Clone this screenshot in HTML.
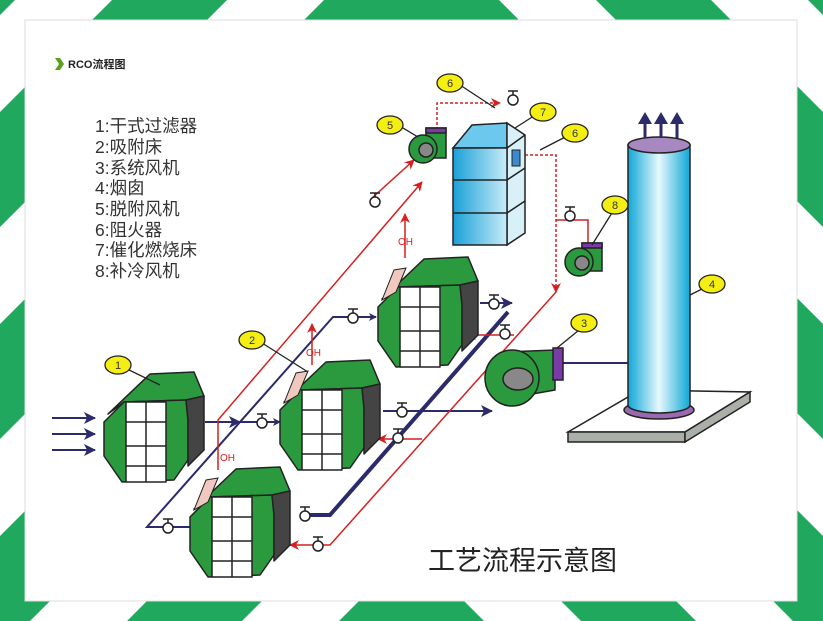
<!DOCTYPE html>
<html><head><meta charset="utf-8"><style>
html,body{margin:0;padding:0;width:823px;height:621px;overflow:hidden;background:#fff}
svg{position:absolute;left:0;top:0}
text{font-family:"Liberation Sans","Noto Sans CJK SC",sans-serif}
</style></head><body>
<svg width="823" height="621" viewBox="0 0 823 621">
<defs>
<clipPath id="lh"><rect x="0" y="0" width="412" height="621"/></clipPath>
<g id="stripes" fill="#1fa85e">
<polygon points="-100,0 15,0 -606,621 -721,621"/>
<polygon points="112,0 227,0 -394,621 -509,621"/>
<polygon points="324,0 439,0 -182,621 -297,621"/>
<polygon points="536,0 651,0 30,621 -85,621"/>
<polygon points="748,0 863,0 242,621 127,621"/>
<polygon points="960,0 1075,0 454,621 339,621"/>
</g>
<marker id="ab" markerWidth="8" markerHeight="8" refX="7" refY="4" orient="auto" markerUnits="userSpaceOnUse"><path d="M0,0 L8,4 L0,8 L2,4 Z" fill="#2b2a6a"/></marker>
<marker id="ar" markerWidth="10" markerHeight="10" refX="9" refY="5" orient="auto" markerUnits="userSpaceOnUse"><path d="M0,0 L10,5 L0,10 L3,5 Z" fill="#d42020"/></marker>
<marker id="abig" markerWidth="12" markerHeight="12" refX="11" refY="6" orient="auto" markerUnits="userSpaceOnUse"><path d="M0,0 L12,6 L0,12 L3,6 Z" fill="#2b2a6a"/></marker>
<g id="bed" stroke="#222" stroke-width="1.5" stroke-linejoin="round">
<path d="M4,44 L46,4 L90,2 L100,26 L82,30 L20,32 Z" fill="#2b9a3e"/>
<path d="M0,52 L20,32 L82,30 L84,50 L84,90 L70,110 L18,112 L0,86 Z" fill="#2b9a3e"/>
<path d="M82,30 L100,26 L100,80 L84,96 L84,50 Z" fill="#444"/>
<rect x="22" y="32" width="40" height="80" fill="#fff"/>
<path d="M42,32 V112 M22,52 H62 M22,76 H62 M22,96 H62" fill="none"/>
</g>
<g id="valve" stroke="#222" stroke-width="1.5" fill="#fff"><path d="M-5,-9 H5 M0,-9 V-4"/><circle cx="0" cy="0" r="5"/></g>
<linearGradient id="tw" x1="0" x2="1"><stop offset="0" stop-color="#1aa0d8"/><stop offset="1" stop-color="#c8ecf8"/></linearGradient>
<linearGradient id="st" x1="0" x2="1"><stop offset="0" stop-color="#0ea8d8"/><stop offset=".5" stop-color="#e8f8fc"/><stop offset="1" stop-color="#0ea8d8"/></linearGradient>
</defs>

<g clip-path="url(#lh)"><use href="#stripes"/></g>
<g transform="translate(823,0) scale(-1,1)"><g clip-path="url(#lh)"><use href="#stripes"/></g></g>
<rect x="25" y="20" width="772" height="581" fill="#fff" stroke="#ddd" stroke-width="1"/>

<!-- title -->
<path d="M55,58 L60,58 L64,64 L60,70 L55,70 L59,64 Z" fill="#5aa020"/>
<text x="68" y="68" font-size="11" font-weight="bold" fill="#222">RCO流程图</text>
<g font-size="17.5" fill="#333">
<text x="95" y="132">1:干式过滤器</text>
<text x="95" y="153">2:吸附床</text>
<text x="95" y="174">3:系统风机</text>
<text x="95" y="194">4:烟囱</text>
<text x="95" y="215">5:脱附风机</text>
<text x="95" y="236">6:阻火器</text>
<text x="95" y="256">7:催化燃烧床</text>
<text x="95" y="277">8:补冷风机</text>
</g>
<text x="428" y="570" font-size="27" fill="#222">工艺流程示意图</text>

<!-- platform & stack -->
<path d="M568,432 L640,390 L750,392 L685,432 Z" fill="#fff" stroke="#222" stroke-width="1.5"/>
<path d="M568,432 L685,432 L685,442 L568,442 Z" fill="#aab0a8" stroke="#222" stroke-width="1.5"/>
<path d="M685,432 L750,392 L750,402 L685,442 Z" fill="#aab0a8" stroke="#222" stroke-width="1.5"/>
<ellipse cx="659" cy="410" rx="35" ry="9" fill="#9a6ab0" stroke="#222" stroke-width="1.5"/>
<path d="M628,145 V405 A31,8 0 0 0 690,405 V145 Z" fill="url(#st)" stroke="#222" stroke-width="1.5"/>
<ellipse cx="659" cy="145" rx="31" ry="8" fill="#a888c0" stroke="#222" stroke-width="1.5"/>
<g stroke="#2b2a6a" stroke-width="3" fill="none"><path d="M645,138 V120 M661,138 V120 M677,138 V120"/></g>
<g fill="#2b2a6a"><path d="M638,124 L645,112 L652,124 Z M654,124 L661,112 L668,124 Z M670,124 L677,112 L684,124 Z"/></g>

<!-- blue pipes -->
<g stroke="#2b2a6a" stroke-width="2" fill="none">
<path d="M52,418 H95" marker-end="url(#abig)"/><path d="M52,434 H95" marker-end="url(#abig)"/><path d="M52,450 H95" marker-end="url(#abig)"/>
<path d="M205,422 H240" marker-end="url(#abig)"/><path d="M240,422 H280" marker-end="url(#ab)"/>
<path d="M190,527 H147 L333,317 H376" marker-end="url(#ab)"/>
<path d="M300,515 H330 L508,312" stroke-width="4"/>
<path d="M383,411 H492" marker-end="url(#abig)"/>
<path d="M480,303 H512" marker-end="url(#abig)"/>
<path d="M562,363 H628"/>
</g>
<!-- red pipes -->
<g stroke="#d42020" stroke-width="1.5" fill="none">
<path d="M218,470 V420 L422,182" marker-end="url(#ar)"/>
<path d="M312,365 V324" marker-end="url(#ar)"/>
<path d="M405,258 V214" marker-end="url(#ar)"/>
<path d="M372,198 L414,160" marker-end="url(#ar)"/>
<path d="M437,130 V103 H500" stroke-dasharray="3,2" marker-end="url(#ar)"/>
<path d="M520,155 H556 V292" stroke-dasharray="3,2" marker-end="url(#ar)"/>
<path d="M588,245 V220 H556"/>
<path d="M556,292 L330,545 H290" marker-end="url(#ar)"/>
<path d="M514,335 H467" marker-end="url(#ar)"/>
<path d="M422,439 H378" marker-end="url(#ar)"/>
</g>
<g font-size="10" fill="#d42020"><text x="220" y="461">OH</text><text x="306" y="356">OH</text><text x="398" y="245">OH</text></g>

<!-- beds -->
<use href="#bed" x="104" y="370"/>
<use href="#bed" x="378" y="255"/>
<use href="#bed" x="280" y="358"/>
<use href="#bed" x="190" y="465"/>
<g stroke="#222" stroke-width="1"><path d="M382,300 L394,270 L406,268 L396,292 Z" fill="#f0c8c0"/><path d="M284,403 L296,373 L308,371 L298,395 Z" fill="#f0c8c0"/><path d="M194,510 L206,480 L218,478 L208,502 Z" fill="#f0c8c0"/></g>

<!-- valves -->
<use href="#valve" x="262" y="423"/><use href="#valve" x="168" y="528"/><use href="#valve" x="353" y="318"/>
<use href="#valve" x="305" y="516"/><use href="#valve" x="402" y="412"/><use href="#valve" x="494" y="304"/>
<use href="#valve" x="375" y="202"/><use href="#valve" x="513" y="100"/><use href="#valve" x="570" y="216"/>
<use href="#valve" x="505" y="334"/><use href="#valve" x="398" y="438"/><use href="#valve" x="318" y="546"/>

<!-- tower -->
<path d="M453,148 L472,125 L507,123 L507,148 Z" fill="#6cc8ec" stroke="#222" stroke-width="1.5"/>
<path d="M507,123 L525,135 L525,233 L507,245 V148 Z" fill="#d8f0f8" stroke="#222" stroke-width="1.5"/>
<path d="M507,148 L525,135" stroke="#222" stroke-width="1.5"/>
<rect x="453" y="148" width="54" height="97" fill="url(#tw)" stroke="#222" stroke-width="1.5"/>
<path d="M453,180 H507 L525,168 M453,213 H507 L525,201" stroke="#222" stroke-width="1.5" fill="none"/>
<rect x="512" y="150" width="8" height="16" fill="#3a8ad0" stroke="#222"/>

<!-- fans -->
<g stroke="#222" stroke-width="1.5">
<rect x="426" y="128" width="20" height="30" fill="#2b9a3e"/><rect x="426" y="128" width="20" height="5" fill="#7a3aa8"/>
<circle cx="423" cy="149" r="14" fill="#2b9a3e"/><circle cx="426" cy="150" r="7" fill="#888"/>
<rect x="582" y="243" width="20" height="28" fill="#2b9a3e"/><rect x="582" y="243" width="20" height="5" fill="#7a3aa8"/>
<circle cx="579" cy="262" r="14" fill="#2b9a3e"/><circle cx="582" cy="263" r="7" fill="#888"/>
<path d="M505,352 L555,350 L555,390 L510,398 Z" fill="#2b9a3e"/>
<rect x="553" y="348" width="10" height="32" fill="#7a3aa8"/>
<ellipse cx="512" cy="378" rx="27" ry="28" fill="#2b9a3e"/>
<ellipse cx="518" cy="379" rx="15" ry="11" fill="#888"/>
</g>

<!-- labels -->
<g stroke="#222" stroke-width="1.3" fill="none">
<path d="M125,368 L160,385"/><path d="M262,343 L308,372"/><path d="M584,326 L557,348"/><path d="M712,284 L690,295"/>
<path d="M398,125 L418,137"/><path d="M460,85 L495,108"/><path d="M540,112 L515,128"/><path d="M575,132 L540,150"/><path d="M615,208 L592,245"/>
</g>
<g fill="#f5ee12" stroke="#222" stroke-width="1.3">
<ellipse cx="118" cy="365" rx="13" ry="9"/><ellipse cx="252" cy="340" rx="13" ry="9"/><ellipse cx="584" cy="323" rx="13" ry="9"/><ellipse cx="712" cy="284" rx="13" ry="9"/>
<ellipse cx="390" cy="125" rx="13" ry="9"/><ellipse cx="450" cy="83" rx="13" ry="9"/><ellipse cx="543" cy="112" rx="13" ry="9"/><ellipse cx="575" cy="133" rx="13" ry="9"/><ellipse cx="615" cy="205" rx="13" ry="9"/>
</g>
<g font-size="11" fill="#333" text-anchor="middle">
<text x="118" y="369">1</text><text x="252" y="344">2</text><text x="584" y="327">3</text><text x="712" y="288">4</text>
<text x="390" y="129">5</text><text x="450" y="87">6</text><text x="543" y="116">7</text><text x="575" y="137">6</text><text x="615" y="209">8</text>
</g>
</svg>
</body></html>
